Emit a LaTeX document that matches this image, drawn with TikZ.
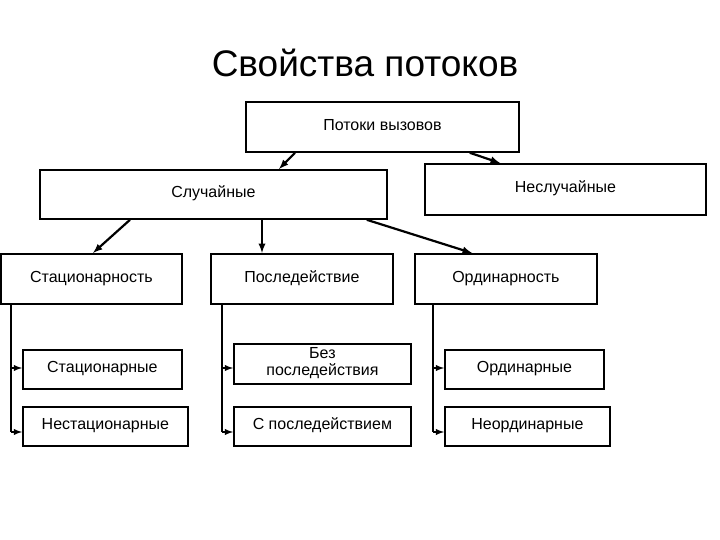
\documentclass[tikz,border=0pt]{standalone}
\usepackage{fontspec}
\setmainfont{Liberation Sans}
\begin{document}
\begin{tikzpicture}[x=1pt,y=-1pt,
 bx/.style={draw,line width=1.8pt,minimum width=0,anchor=north west,font=\fontsize{16}{17}\selectfont,align=center,inner sep=0},
 ar/.style={line width=2.2pt,-latex},
 ln/.style={line width=1.8pt}]
\useasboundingbox (0,0) rectangle (720,540);
\newcommand\bxx[6]{\node[bx,minimum width=#4-#2,minimum height=#5-#3] (#1) at (#2,#3) {#6\strut};}
\node (title) at (365,63) {\fontsize{37}{40}\selectfont Свойства потоков};
\bxx{top}{245}{101}{518}{151}{Потоки вызовов}
\bxx{rnd}{39}{169}{386}{218}{Случайные}
\bxx{nrnd}{424}{163}{705}{214}{Неслучайные}
\bxx{st}{0}{253}{181}{303}{Стационарность}
\bxx{po}{210}{253}{392}{303}{Последействие}
\bxx{or}{414}{253}{596}{303}{Ординарность}
\bxx{st1}{22}{349}{181}{388}{Стационарные}
\bxx{st2}{22}{406}{187}{445}{Нестационарные}
\bxx{po1}{233}{343}{410}{383}{Без\strut\\последействия}
\bxx{po2}{233}{406}{410}{445}{С последействием}
\bxx{or1}{444}{349}{603}{388}{Ординарные}
\bxx{or2}{444}{406}{609}{445}{Неординарные}
\draw[ar] (top.south west)++(50,0) -- (rnd.north west -| 279,0);
\draw[ar] ([xshift=-50pt]top.south east) -- ([xshift=76pt]nrnd.north west);
\draw[ar] ([xshift=91pt]rnd.south west) -- ([xshift=93pt]st.north west);
\draw[ar] ([xshift=223pt]rnd.south west) -- ([xshift=52pt]po.north west);
\draw[ar] ([xshift=-21pt]rnd.south east) -- ([xshift=58pt]or.north west);
\foreach \p/\a/\b/\x in {st/st1/st2/11,po/po1/po2/222,or/or1/or2/433}{
 \draw[ln] (\x,303) -- (\x,432);
 \draw[ln,-latex] (\x,368) -- (\a.west|-0,368);
 \draw[ln,-latex] (\x,432) -- (\b.west|-0,432);
}
\end{tikzpicture}
\end{document}
